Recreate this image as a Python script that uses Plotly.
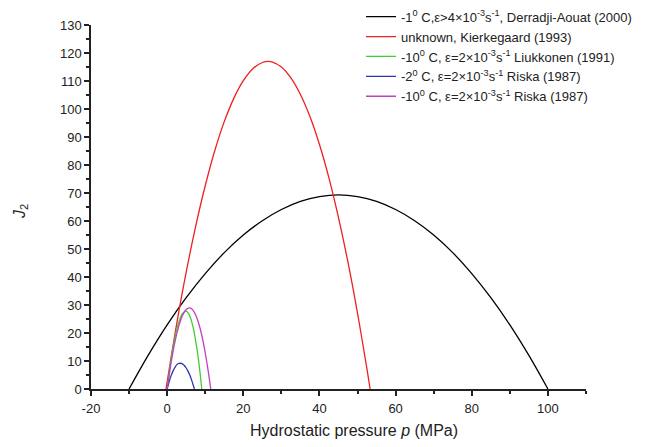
import plotly.graph_objects as go

# Black: -1 C, Derradji-Aouat (2000)
p_black = [-10, -5, 0, 5, 10, 15, 20, 25, 30, 35, 40, 45, 50, 55, 60, 65, 70, 75, 80, 85, 90, 95, 100]
j_black = [0, 12.0, 22.9, 32.6, 41.2, 48.7, 55.0, 60.1, 64.1, 67.0, 68.7, 69.3, 68.7, 67.0, 64.1, 60.1, 55.0, 48.7, 41.2, 32.6, 22.9, 12.0, 0]

# Red: unknown, Kierkegaard (1993)
p_red = [-0.3, 2.5, 5, 7.5, 10, 12.5, 15, 17.5, 20, 22.5, 25, 26.5, 27.5, 30, 32.5, 35, 37.5, 40, 42.5, 45, 47.5, 50, 52.5, 53.3]
j_red = [0, 23.2, 41.7, 58.2, 72.6, 85.1, 95.5, 103.8, 110.1, 114.4, 116.6, 117.0, 116.8, 115.0, 111.1, 105.2, 97.3, 87.3, 75.3, 61.2, 45.2, 27.0, 6.9, 0]

# Green: -10 C, Liukkonen (1991)
p_green = [0, 0.5, 1, 1.5, 2, 2.5, 3, 3.5, 4, 4.5, 4.9, 5.5, 6, 6.5, 7, 7.5, 8, 8.5, 9.1]
j_green = [0, 5.4, 10.2, 14.4, 18.1, 21.1, 23.6, 25.5, 26.9, 27.6, 27.8, 27.2, 25.9, 23.8, 20.9, 17.1, 12.7, 7.4, 0]

# Blue: -2 C, Riska (1987)
p_blue = [0, 0.5, 1, 1.5, 2, 2.5, 3, 3.4, 4, 4.5, 5, 5.5, 6, 6.5, 7, 7.15]
j_blue = [0, 2.5, 4.6, 6.3, 7.6, 8.6, 9.1, 9.2, 9.0, 8.4, 7.5, 6.3, 4.8, 2.9, 0.7, 0]

# Magenta: -10 C, Riska (1987)
p_mag = [0, 1, 2, 3, 4, 5, 5.8, 6.5, 7.5, 8.5, 9.5, 10.5, 11, 11.45]
j_mag = [0, 9.1, 16.6, 22.2, 26.2, 28.4, 29.0, 28.6, 26.4, 22.4, 16.6, 8.9, 4.4, 0]

names = [
    "-1<sup>0</sup> C,ε>4×10<sup>-3</sup>s<sup>-1</sup>, Derradji-Aouat (2000)",
    "unknown, Kierkegaard (1993)",
    "-10<sup>0</sup> C, ε=2×10<sup>-3</sup>s<sup>-1</sup> Liukkonen (1991)",
    "-2<sup>0</sup> C, ε=2×10<sup>-3</sup>s<sup>-1</sup> Riska (1987)",
    "-10<sup>0</sup> C, ε=2×10<sup>-3</sup>s<sup>-1</sup> Riska (1987)",
]
colors = ["#000000", "#ee2020", "#44cc33", "#3333aa", "#c040c0"]
series = [(p_black, j_black), (p_red, j_red), (p_green, j_green), (p_blue, j_blue), (p_mag, j_mag)]

x_ticks = [-20, 0, 20, 40, 60, 80, 100]
x_ticklabels = ["-20", "0", "20", "40", "60", "80", "100"]
y_ticks = [0, 10, 20, 30, 40, 50, 60, 70, 80, 90, 100, 110, 120, 130]
y_ticklabels = [str(v) for v in y_ticks]

fig = go.Figure()
for (px, jy), nm, c in zip(series, names, colors):
    fig.add_trace(go.Scatter(x=px, y=jy, mode="lines", name=nm,
                             line=dict(color=c, width=1.3, shape="spline", smoothing=1.0)))

font = "Liberation Sans, Arial, sans-serif"
axcol = "#222"
# the page body has an 8px margin, so the margins are reduced by 8px
fig.update_layout(
    width=659, height=447,
    margin=dict(l=83, r=81, t=17, b=66, autoexpand=False),
    paper_bgcolor="white", plot_bgcolor="white",
    font=dict(family=font, size=13, color=axcol),
    showlegend=True,
    legend=dict(x=0.5455, y=1.064, xanchor="left", yanchor="top",
                bgcolor="rgba(0,0,0,0)", font=dict(size=13, family=font, color=axcol),
                itemwidth=30, tracegroupgap=0),
    xaxis=dict(range=[-20, 110], showgrid=False, zeroline=False, automargin=False,
               showline=True, linecolor=axcol, linewidth=1.5,
               ticks="outside", ticklen=5, tickwidth=1.5, tickcolor=axcol,
               tickvals=x_ticks, ticktext=x_ticklabels, ticklabelstandoff=2,
               minor=dict(ticks="outside", ticklen=3, tickwidth=1.5, tickcolor=axcol, dtick=10, tick0=-20),
               tickfont=dict(size=13)),
    yaxis=dict(range=[0, 130], showgrid=False, zeroline=False, automargin=False,
               showline=True, linecolor=axcol, linewidth=1.5,
               ticks="outside", ticklen=5, tickwidth=1.5, tickcolor=axcol,
               tickvals=y_ticks, ticktext=y_ticklabels,
               minor=dict(ticks="outside", ticklen=3, tickwidth=1.5, tickcolor=axcol, dtick=5, tick0=0),
               tickfont=dict(size=13)),
    annotations=[
        dict(text="Hydrostatic pressure <i>p</i> (MPa)", xref="paper", yref="paper",
             x=(354 - 91) / 495, y=(389 - 430) / 364, xanchor="center", yanchor="middle",
             showarrow=False, font=dict(size=16, family=font, color=axcol)),
        dict(text="<i>J</i><sub>2</sub>", xref="paper", yref="paper",
             x=(21 - 91) / 495, y=(389 - 212) / 364, xanchor="center", yanchor="middle",
             textangle=-90, showarrow=False, font=dict(size=16, family=font, color=axcol)),
    ],
)
fig.write_html("out.html")
